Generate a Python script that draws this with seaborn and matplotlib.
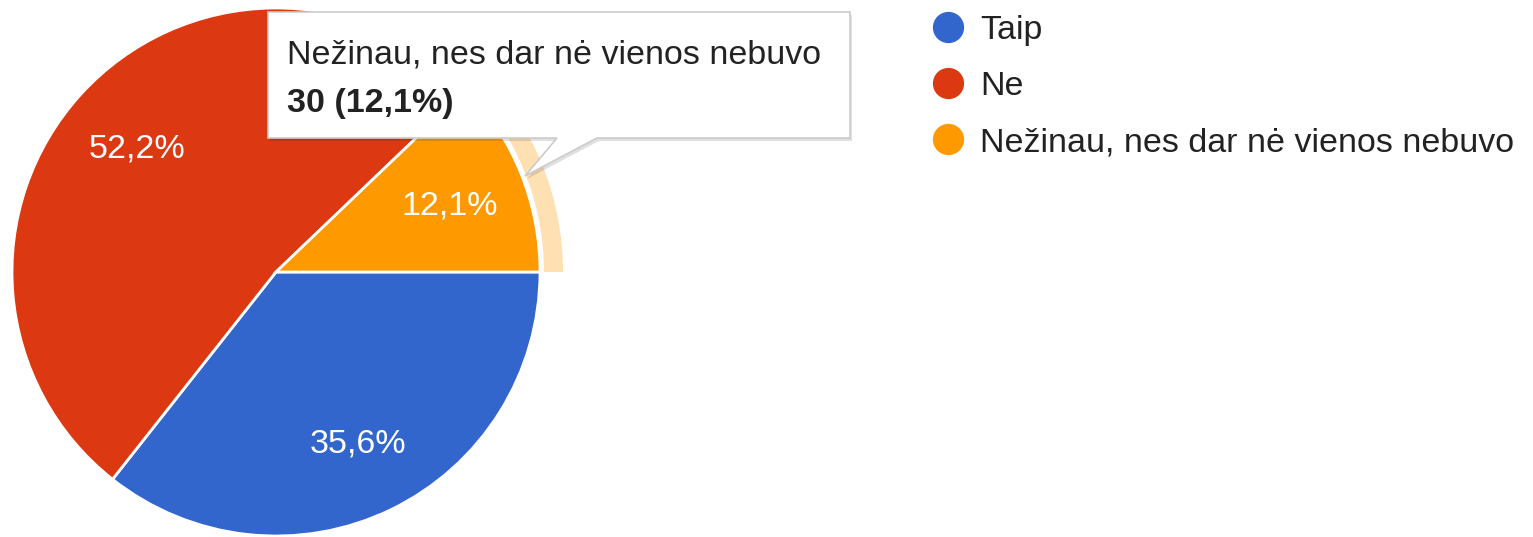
import numpy as np
import matplotlib
matplotlib.use('Agg')
import matplotlib.pyplot as plt
import seaborn as sns
from matplotlib.patches import Wedge, Polygon
from matplotlib.lines import Line2D

# data
categories = ['Taip', 'Ne', 'Nežinau, nes dar nė vienos nebuvo']
counts = [88, 129, 30]
colors = ['#3366CC', '#DC3912', '#FF9900']
highlight_idx = 2

sns.set_style('white')
plt.rcParams['font.family'] = ['Liberation Sans', 'DejaVu Sans']

W, H = 1533, 537
fig = plt.figure(figsize=(W / 100, H / 100), dpi=100)
ax = fig.add_axes([0, 0, 1, 1])

cx, cy, r = 276, H - 272, 264
fs = 24.5

def pct_label(p):
    return f'{p:.1f}%'.replace('.', ',')

wedges, texts, autotexts = ax.pie(
    counts, colors=colors, startangle=0, counterclock=False,
    center=(cx, cy), radius=r, frame=True,
    autopct=pct_label, pctdistance=0.71,
    wedgeprops=dict(edgecolor='white', linewidth=2),
    textprops=dict(color='white', fontsize=fs),
)
for t in autotexts:
    t.set_va('center_baseline')

# highlight ring around hovered slice
total = sum(counts)
ends = 360 - 360 * np.cumsum(counts) / total
starts = np.concatenate([[360], ends[:-1]])
t1, t2 = ends[highlight_idx], starts[highlight_idx]
ax.add_patch(Wedge((cx, cy), r + 23, t1 % 360, t2 % 360 if t2 % 360 else 360,
                   width=19, facecolor=colors[highlight_idx], alpha=0.3, lw=0))

# tooltip
def flip(pts):
    return [(x, H - y) for x, y in pts]

box = [(268, 12), (850, 12), (850, 138), (597, 138), (525, 176), (557, 138), (268, 138)]
shadow = [(x + 2, y + 3) for x, y in box]
ax.add_patch(Polygon(flip(shadow), closed=True, facecolor='#000000', alpha=0.12, lw=0, zorder=5))
ax.add_patch(Polygon(flip(box), closed=True, facecolor='white', edgecolor='#cccccc', lw=1.2, zorder=6))
pct = 100 * counts[highlight_idx] / total
ax.text(287, H - 52, categories[highlight_idx], fontsize=fs, color='#222222',
        va='center_baseline', ha='left', zorder=7)
ax.text(287, H - 100, f'{counts[highlight_idx]} ({pct_label(pct)})', fontsize=fs,
        fontweight='bold', color='#222222', va='center_baseline', ha='left', zorder=7)

# legend
handles = [Line2D([0], [0], marker='o', linestyle='none', markersize=21.5,
                  markerfacecolor=c, markeredgecolor=c) for c in colors]
leg = ax.legend(handles, categories, loc='upper left',
                bbox_to_anchor=(931 / W, 1 - 15 / H), bbox_transform=fig.transFigure,
                frameon=False, fontsize=fs, handlelength=1.0, handletextpad=0.45,
                labelspacing=0.74, borderpad=0, borderaxespad=0)
for t in leg.get_texts():
    t.set_color('#222222')

ax.set_xlim(0, W)
ax.set_ylim(0, H)
ax.set_aspect('equal')
ax.axis('off')

fig.savefig('out.png', dpi=100)
